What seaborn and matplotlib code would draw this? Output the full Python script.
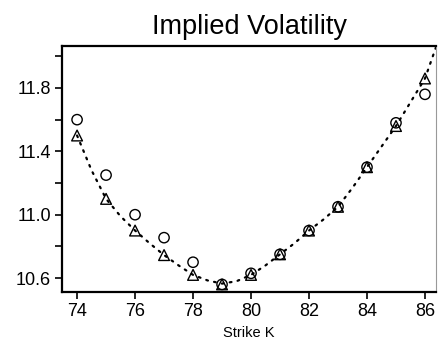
import numpy as np
import pandas as pd
import matplotlib
matplotlib.use("Agg")
import matplotlib.pyplot as plt
import seaborn as sns

# Strikes and implied volatilities (%)
strikes = [74, 75, 76, 77, 78, 79, 80, 81, 82, 83, 84, 85, 86]
market_vol = [11.60, 11.25, 11.00, 10.855, 10.70, 10.56, 10.63, 10.75, 10.90, 11.05, 11.30, 11.58, 11.76]
model_vol = [11.50, 11.10, 10.90, 10.745, 10.62, 10.56, 10.62, 10.75, 10.90, 11.05, 11.30, 11.56, 11.86]

# Fitted smile curve
curve_k = [74.0, 74.5, 75.0, 75.5, 76.0, 76.5, 77.0, 77.5, 78.0, 78.5, 79.0, 79.5,
           80.0, 80.5, 81.0, 81.5, 82.0, 82.5, 83.0, 83.5, 84.0, 84.5, 85.0, 85.5,
           86.0, 86.5]
curve_vol = [11.50, 11.28, 11.10, 10.99, 10.90, 10.82, 10.745, 10.68, 10.62, 10.585, 10.565, 10.58,
             10.62, 10.68, 10.75, 10.82, 10.90, 10.97, 11.05, 11.17, 11.30, 11.43, 11.56, 11.71,
             11.86, 12.12]

sns.set_style("ticks")
plt.rcParams["font.family"] = ["Liberation Sans", "DejaVu Sans"]
plt.rcParams["text.color"] = "black"
plt.rcParams["axes.labelcolor"] = "black"

pts = pd.DataFrame({"K": strikes, "market": market_vol, "model": model_vol})
curve = pd.DataFrame({"K": curve_k, "vol": curve_vol})

fig = plt.figure(figsize=(4.38, 3.47), dpi=100)
ax = fig.add_axes([62 / 438, 55 / 347, 374 / 438, 246 / 347])

sns.lineplot(data=curve, x="K", y="vol", ax=ax, color="black", linewidth=1.6,
             linestyle=(0, (0.8, 2.8)), dash_capstyle="round", sort=False)
sns.scatterplot(data=pts, x="K", y="model", ax=ax, marker="^", s=60,
                facecolor="none", edgecolor="black", linewidth=1.0, zorder=3)
sns.scatterplot(data=pts, x="K", y="market", ax=ax, marker="o", s=55,
                facecolor="none", edgecolor="black", linewidth=1.0, zorder=3)

ax.set_xlim(73.48, 86.38)
ax.set_ylim(10.512, 12.065)
ax.set_xticks([74, 76, 78, 80, 82, 84, 86])
ax.set_yticks([10.6, 11.0, 11.4, 11.8])
ax.set_yticks([10.8, 11.2, 11.6, 12.0], minor=True)
ax.set_yticklabels(["10.6", "11.0", "11.4", "11.8"])
ax.tick_params(axis="both", which="both", direction="out", length=5, width=1.2,
               colors="black", labelcolor="black", labelsize=13, pad=3)

ax.set_xlabel("Strike K", fontsize=10.5, labelpad=4, color="black")
ax.set_ylabel("")
ax.set_title("Implied Volatility", fontsize=19.5, pad=9, color="black")

for side in ["left", "bottom", "top"]:
    ax.spines[side].set_visible(True)
    ax.spines[side].set_linewidth(1.6)
    ax.spines[side].set_color("black")
ax.spines["right"].set_visible(True)
ax.spines["right"].set_linewidth(0.8)
ax.spines["right"].set_color("#999999")

fig.savefig("out.png", dpi=100)
